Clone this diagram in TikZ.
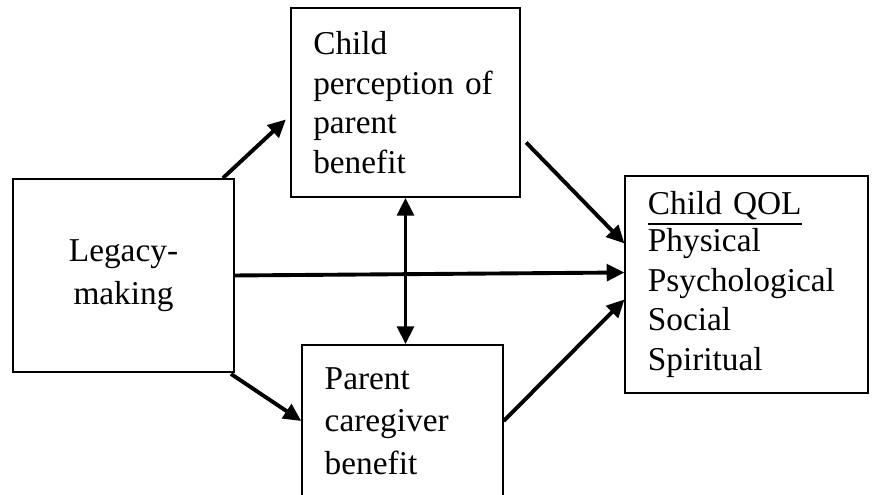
\documentclass[tikz,border=0pt]{standalone}
\usepackage{fontspec}
\setmainfont{Liberation Serif}
\usetikzlibrary{arrows.meta, positioning, calc}
\tikzset{
    box/.style={
        rectangle, draw=black, line width=0.65pt,
        font=\fontsize{12}{14.2}\selectfont, inner sep=0pt
    },
    leftbox/.style={
        box, align=left, inner xsep=8.1pt
    },
    arrow/.style={-{Triangle[length=6.4pt,width=6pt]}, line width=1.4pt, draw=black},
    twoway/.style={{Triangle[length=6.4pt,width=6pt]}-{Triangle[length=6.4pt,width=6pt]}, line width=1.4pt, draw=black}
}
\begin{document}
\begin{tikzpicture}[x=0.36pt, y=-0.36pt]
    \useasboundingbox (0,0) rectangle (874,495);
    \node[box, align=center, minimum width=79.6pt, minimum height=69.5pt, font=\fontsize{12}{15.4}\selectfont] (legacy) at (123.5,275.5) {Legacy-\\making};
    \node[leftbox, text width=66.4pt, minimum height=68pt] (perception) at (405.5,102.5) {Child\\perception of\\parent\\benefit};
    \node[leftbox, text width=56pt, minimum height=54.7pt, font=\fontsize{12}{15.3}\selectfont] (caregiver) at (402.5,421) {Parent\\caregiver\\benefit};
    \node[leftbox, text width=71pt, minimum height=78.1pt] (qol) at (746.5,284.5) {\underline{Child QOL}\\[-0.8pt]Physical\\Psychological\\Social\\Spiritual};

    \draw[arrow] ($(legacy.north east)+(-12,0)$) -- ($(perception.west)+(-4,17)$);
    \draw[arrow] ($(legacy.south east)+(-4,1)$) -- (caregiver.west);
    \draw[arrow] (legacy.east) -- ($(qol.west)+(0,-12)$);
    \draw[arrow] ($(perception.east)+(5,40)$) -- ($(qol.west)+(0,-41)$);
    \draw[arrow] (caregiver.east) -- ($(qol.west)+(0,15)$);
    \draw[twoway] (perception.south) -- (perception.south |- caregiver.north);
\end{tikzpicture}
\end{document}
